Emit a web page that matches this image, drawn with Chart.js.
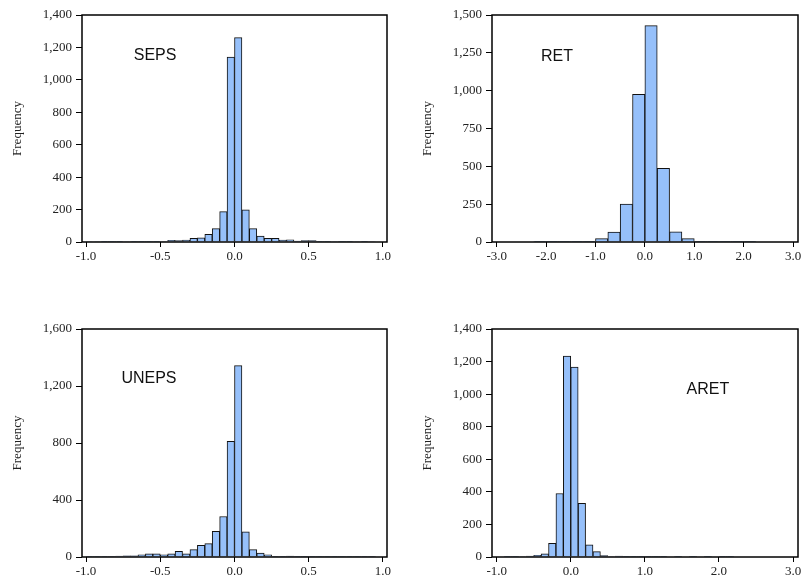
<!DOCTYPE html>
<html>
<head>
<meta charset="utf-8">
<script src="https://cdn.jsdelivr.net/npm/chart.js@4"></script>
<style>
  body { margin: 0; background: #fff; }
  canvas { position: absolute; }
</style>
</head>
<body>
<canvas id="c1" width="400" height="275" style="left:0;top:0"></canvas>
<canvas id="c2" width="405" height="275" style="left:400px;top:0"></canvas>
<canvas id="c3" width="400" height="281" style="left:0;top:300px"></canvas>
<canvas id="c4" width="405" height="281" style="left:400px;top:300px"></canvas>
<script>
// histogram data: bin start, bin width, counts per bin
const sepsStart = -1.0, sepsWidth = 0.05;
const sepsCounts = [3, 3, 1, 2, 2, 3, 4, 2, 2, 1, 3, 10, 8, 12, 22, 25, 47, 82, 187, 1140,
                    1260, 199, 82, 37, 23, 22, 12, 14, 6, 8, 8, 4, 4, 3, 2, 4, 3, 1, 3, 0];
const sepsXTicks = [-1.0, -0.5, 0.0, 0.5, 1.0];
const sepsYTicks = [0, 200, 400, 600, 800, 1000, 1200, 1400];

const retStart = -3.0, retWidth = 0.25;
const retCounts = [0, 0, 0, 2, 1, 1, 2, 5, 22, 65, 250, 975,
                   1430, 487, 68, 22, 5, 2, 1, 1, 2, 0, 0, 0];
const retXTicks = [-3.0, -2.0, -1.0, 0.0, 1.0, 2.0, 3.0];
const retYTicks = [0, 250, 500, 750, 1000, 1250, 1500];

const unepsStart = -1.0, unepsWidth = 0.05;
const unepsCounts = [2, 2, 3, 3, 7, 9, 9, 16, 23, 23, 16, 23, 40, 23, 52, 82, 94, 181, 284, 812,
                     1343, 176, 52, 28, 16, 3, 2, 6, 2, 3, 2, 2, 2, 2, 1, 1, 2, 4, 4, 0];
const unepsXTicks = [-1.0, -0.5, 0.0, 0.5, 1.0];
const unepsYTicks = [0, 400, 800, 1200, 1600];

const aretStart = -1.0, aretWidth = 0.1;
const aretCounts = [0, 2, 2, 3, 6, 10, 20, 84, 390, 1234, 1166, 329, 74, 33, 8, 3, 6, 2, 1, 1,
                    2, 1, 1, 0, 1, 0, 1, 0, 1, 0, 1, 2, 0, 0, 0, 0, 0, 0, 0, 0];
const aretXTicks = [-1.0, 0.0, 1.0, 2.0, 3.0];
const aretYTicks = [0, 200, 400, 600, 800, 1000, 1200, 1400];

const serif = 'Liberation Serif';

// frame round the plot area + series name inside it
const framePlugin = {
  id: 'frame',
  afterDraw(chart, args, opts) {
    const ctx = chart.ctx, a = chart.chartArea;
    ctx.save();
    ctx.strokeStyle = '#000';
    ctx.lineWidth = 1.5;
    ctx.strokeRect(a.left, a.top, a.right - a.left, a.bottom - a.top);
    ctx.fillStyle = '#111';
    ctx.font = '16px "Liberation Sans"';
    ctx.textAlign = 'center';
    ctx.textBaseline = 'middle';
    ctx.fillText(opts.name, chart.scales.x.getPixelForValue(opts.lx), chart.scales.y.getPixelForValue(opts.ly));
    ctx.restore();
  }
};

function hist(id, p) {
  const pts = p.counts.map((c, i) => ({ x: p.start + p.width * i + p.width / 2, y: c }));
  return new Chart(document.getElementById(id), {
    type: 'bar',
    data: {
      datasets: [{
        data: pts,
        backgroundColor: 'rgb(150,192,250)',
        borderColor: '#111',
        borderWidth: 1,
        barPercentage: 1,
        categoryPercentage: 1
      }]
    },
    plugins: [framePlugin],
    options: {
      responsive: false,
      animation: false,
      devicePixelRatio: 1,
      layout: { padding: { top: p.top, right: p.right, left: 0, bottom: 0 } },
      plugins: {
        legend: { display: false },
        tooltip: { enabled: false },
        frame: { name: p.name, lx: p.lx, ly: p.ly }
      },
      scales: {
        x: {
          type: 'linear',
          min: p.xmin, max: p.xmax,
          offset: false,
          grid: { offset: false, drawOnChartArea: false, tickLength: 5, color: '#000' },
          border: { display: false },
          afterBuildTicks: s => { s.ticks = p.xt.map(v => ({ value: v })); },
          afterFit: s => { s.height = p.xh; },
          ticks: {
            autoSkip: false, maxRotation: 0, padding: 2,
            color: '#222', font: { family: serif, size: 13 },
            callback: v => v.toFixed(1)
          }
        },
        y: {
          min: 0, max: p.yt[p.yt.length - 1],
          grid: { drawOnChartArea: false, tickLength: 6, color: '#000' },
          border: { display: false },
          afterBuildTicks: s => { s.ticks = p.yt.map(v => ({ value: v })); },
          afterFit: s => { s.width = p.yw; },
          ticks: {
            padding: 4, color: '#222', font: { family: serif, size: 13 },
            callback: v => v.toLocaleString('en-US')
          },
          title: {
            display: true, text: 'Frequency', color: '#222',
            font: { family: serif, size: 13 },
            padding: { top: p.tp, bottom: 0 }
          }
        }
      }
    }
  });
}

hist('c1', { name: 'SEPS', lx: -0.535, ly: 1150, counts: sepsCounts, start: sepsStart, width: sepsWidth,
  xt: sepsXTicks, yt: sepsYTicks, xmin: -1.027, xmax: 1.027,
  top: 15, right: 13, yw: 82, xh: 33, tp: 10 });
hist('c2', { name: 'RET', lx: -1.78, ly: 1225, counts: retCounts, start: retStart, width: retWidth,
  xt: retXTicks, yt: retYTicks, xmin: -3.095, xmax: 3.1,
  top: 15, right: 7, yw: 92, xh: 33, tp: 20 });
hist('c3', { name: 'UNEPS', lx: -0.576, ly: 1255, counts: unepsCounts, start: unepsStart, width: unepsWidth,
  xt: unepsXTicks, yt: unepsYTicks, xmin: -1.027, xmax: 1.027,
  top: 29, right: 13, yw: 82, xh: 24, tp: 10 });
hist('c4', { name: 'ARET', lx: 1.85, ly: 1030, counts: aretCounts, start: aretStart, width: aretWidth,
  xt: aretXTicks, yt: aretYTicks, xmin: -1.063, xmax: 3.067,
  top: 29, right: 7, yw: 92, xh: 24, tp: 20 });
</script>
</body>
</html>
